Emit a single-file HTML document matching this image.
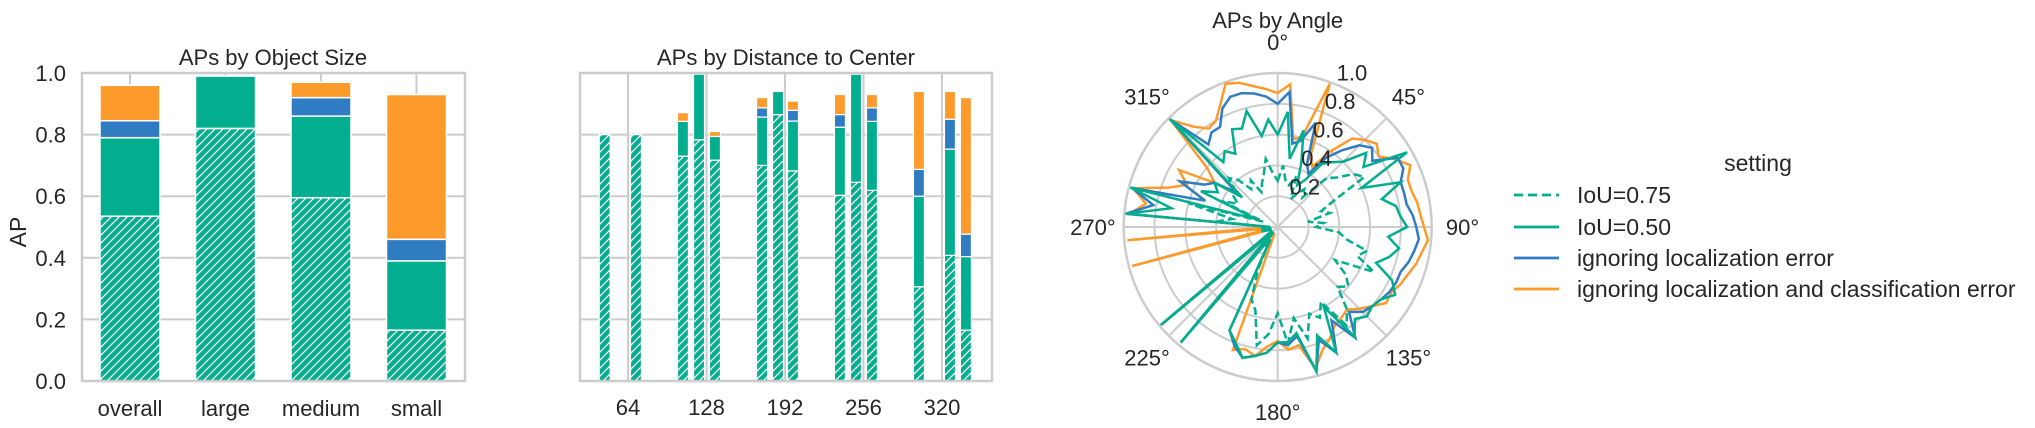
<!DOCTYPE html>
<html><head><meta charset="utf-8">
<style>
html,body{margin:0;padding:0;background:#fff;}
svg{display:block;font-family:"Liberation Sans",Arial,sans-serif;fill:#262626;}
</style></head>
<body>
<svg id="chart" width="2035" height="428" viewBox="0 0 2035 428" xmlns="http://www.w3.org/2000/svg">
<defs>
<pattern id="hatch" patternUnits="userSpaceOnUse" width="8" height="8">
<rect width="8" height="8" fill="#02ae8f"/>
<path d="M-2,10 L10,-2 M-2,2 L2,-2 M6,10 L10,6" stroke="#fff" stroke-width="1.3"/>
</pattern>
</defs>
<g id="left"></g>
<g id="mid"></g>
<g id="polar"></g>
<g id="legend"></g>
</svg>
<script>
// ---- Size chart data ----
const sizeCats = ["overall","large","medium","small"];
const sizeIoU75 = [0.535,0.82,0.595,0.165];
const sizeIoU50 = [0.79,0.99,0.86,0.39];
const sizeLoc = [0.845,0.99,0.92,0.46];
const sizeLocCls = [0.96,0.99,0.97,0.93];
const yTicks = [0.0,0.2,0.4,0.6,0.8,1.0];
// ---- Distance chart data ----
const distPos = [45,70.5,108.8,121.9,134.9,173.3,186.3,198.5,236.8,249.9,262.9,301.2,326.5,339.5];
const distIoU75 = [0.80,0.80,0.73,0.783,0.717,0.70,0.865,0.682,0.603,0.645,0.619,0.306,0.408,0.165];
const distIoU50 = [0.80,0.80,0.843,0.996,0.794,0.857,0.94,0.844,0.824,0.996,0.843,0.60,0.753,0.404];
const distLoc = [0.80,0.80,0.843,0.996,0.794,0.887,0.94,0.879,0.865,0.996,0.887,0.687,0.85,0.477];
const distLocCls = [0.80,0.80,0.871,0.996,0.81,0.92,0.94,0.909,0.93,0.996,0.93,0.94,0.94,0.92];
const distTicks = [64,128,192,256,320];
// ---- Angle chart data (0..355 step 5) ----
const angles = [0,5,10,15,20,25,30,35,40,45,50,55,60,65,70,75,80,85,90,95,100,105,110,115,120,125,130,135,140,145,150,155,160,165,170,175,180,185,190,195,200,205,210,215,220,225,230,235,240,245,250,255,260,265,270,275,280,285,290,295,300,305,310,315,320,325,330,335,340,345,350,355];
const angIoU75 = [0.3,0.4,0.3,0.28,0.35,0.2,0.25,0.3,0.25,0.45,0.5,0.6,0.65,0.4,0.3,0.35,0.2,0.3,0.25,0.4,0.45,0.6,0.55,0.69,0.43,0.54,0.6,0.55,0.7,0.78,0.56,0.65,0.6,0.75,0.6,0.76,0.56,0.7,0.78,0.56,0.5,0.3,0.1,0.15,0.05,0.05,0.3,0.05,0.05,0.05,0.05,0.05,0.05,0.1,0.05,0.4,0.3,0.6,0.1,0.4,0.3,0.35,0.35,0.45,0.4,0.3,0.35,0.25,0.3,0.35,0.45,0.35];
const angIoU50 = [0.6,0.75,0.45,0.65,0.45,0.3,0.35,0.5,0.55,0.6,0.75,0.68,0.97,0.6,0.85,0.7,0.78,0.8,0.84,0.72,0.8,0.75,0.68,0.82,0.88,0.82,0.8,0.82,0.78,0.87,0.6,0.9,0.75,0.97,0.7,0.75,0.75,0.82,0.85,0.88,0.8,0.74,0.1,0.1,0.98,0.05,0.99,0.05,0.05,0.05,0.05,0.1,0.1,0.1,0.05,0.99,0.7,0.99,0.15,0.55,0.45,0.5,0.3,0.99,0.55,0.6,0.55,0.7,0.68,0.78,0.6,0.7];
const angLoc = [0.8,0.88,0.55,0.58,0.72,0.45,0.4,0.55,0.65,0.75,0.8,0.75,0.9,0.9,0.85,0.85,0.85,0.88,0.9,0.92,0.9,0.88,0.85,0.85,0.84,0.82,0.8,0.78,0.72,0.88,0.7,0.9,0.78,0.97,0.72,0.77,0.75,0.82,0.85,0.88,0.82,0.74,0.1,0.1,0.98,0.05,0.99,0.05,0.05,0.05,0.05,0.1,0.1,0.1,0.05,0.99,0.82,0.98,0.5,0.7,0.55,0.5,0.35,0.99,0.7,0.75,0.75,0.85,0.9,0.9,0.88,0.85];
const angLocCls = [0.87,0.93,0.58,0.6,0.99,0.5,0.45,0.6,0.75,0.8,0.84,0.8,0.88,0.95,0.9,0.9,0.92,0.93,0.95,0.98,0.95,0.93,0.9,0.88,0.85,0.86,0.8,0.75,0.7,0.72,0.74,0.8,0.85,0.95,0.78,0.8,0.74,0.78,0.85,0.82,0.85,0.05,0.05,0.05,0.98,0.05,0.95,0.05,0.05,0.05,0.05,0.98,0.05,0.98,0.05,0.97,0.87,0.97,0.75,0.65,0.74,0.5,0.6,0.98,0.85,0.78,0.8,0.88,0.99,0.97,0.93,0.9];
const radialTicks = [0.2,0.4,0.6,0.8,1.0];
const angleTicks = [0,45,90,135,180,225,270,315];

const NS="http://www.w3.org/2000/svg";
const TEAL="#02ae8f", BLUE="#2f7cc3", ORANGE="#fd9a2c", GRID="#cccccc";
function mk(parent,tag,attrs,text){const e=document.createElementNS(NS,tag);for(const k in attrs)e.setAttribute(k,attrs[k]);if(text!==undefined)e.textContent=text;parent.appendChild(e);return e;}

const Y0=381, YH=308;
function ys(v){return Y0-v*YH;}

// ---------- Left chart ----------
(function(){
  const g=document.getElementById('left');
  const L=82,R=465;
  const xc=i=>130+i*95.5;
  yTicks.forEach(t=>{
    if(t>0&&t<1){const l=mk(g,'line',{x1:L,x2:R,y1:ys(t),y2:ys(t),stroke:GRID,'stroke-width':2});
      }
    const tx=mk(g,'text',{x:66,y:ys(t)+8,'text-anchor':'end','font-size':22},t.toFixed(1));
    
  });
  sizeCats.forEach((c,i)=>{
    const l=mk(g,'line',{x1:xc(i),x2:xc(i),y1:73,y2:Y0,stroke:GRID,'stroke-width':2});
    
    const levels=[0,sizeIoU75[i],sizeIoU50[i],sizeLoc[i],sizeLocCls[i]];
    const fills=['url(#hatch)',TEAL,BLUE,ORANGE];
    const names=['iou75','iou50','loc','loccls'];
    for(let k=0;k<4;k++){
      if(levels[k+1]-levels[k]<=0.001)continue;
      const r=mk(g,'rect',{x:xc(i)-30,width:60,y:ys(levels[k+1]),height:ys(levels[k])-ys(levels[k+1]),fill:fills[k],stroke:'#fff','stroke-width':1.5});
      
    }
    const tx=mk(g,'text',{x:xc(i),y:416,'text-anchor':'middle','font-size':22},c);
    
  });
  const f=mk(g,'rect',{x:L,y:73,width:R-L,height:Y0-73,fill:'none',stroke:GRID,'stroke-width':2.5});
  
  const t=mk(g,'text',{x:273,y:65,'text-anchor':'middle','font-size':22},'APs by Object Size');
  
  const yl=mk(g,'text',{x:0,y:0,'text-anchor':'middle','font-size':23,transform:'translate(26,232) rotate(-90)'},'AP');
  
})();

// ---------- Middle chart ----------
(function(){
  const g=document.getElementById('mid');
  const L=580,R=992;
  const xs=d=>549.5+d/64*78.5;
  yTicks.forEach(t=>{ if(t>0&&t<1){const l=mk(g,'line',{x1:L,x2:R,y1:ys(t),y2:ys(t),stroke:GRID,'stroke-width':2});
    }});
  distTicks.forEach(t=>{
    const l=mk(g,'line',{x1:xs(t),x2:xs(t),y1:73,y2:Y0,stroke:GRID,'stroke-width':2});
    
    const tx=mk(g,'text',{x:xs(t),y:415,'text-anchor':'middle','font-size':22},String(t));
    
  });
  distPos.forEach((d,i)=>{
    const levels=[0,distIoU75[i],distIoU50[i],distLoc[i],distLocCls[i]];
    const fills=['url(#hatch)',TEAL,BLUE,ORANGE];
    for(let k=0;k<4;k++){
      if(levels[k+1]-levels[k]<=0.001)continue;
      const r=mk(g,'rect',{x:xs(d)-5.5,width:11,y:ys(levels[k+1]),height:ys(levels[k])-ys(levels[k+1]),fill:fills[k],stroke:'#fff','stroke-width':1.2});
      
    }
  });
  const f=mk(g,'rect',{x:L,y:73,width:R-L,height:Y0-73,fill:'none',stroke:GRID,'stroke-width':2.5});
  
  const t=mk(g,'text',{x:786,y:65,'text-anchor':'middle','font-size':22},'APs by Distance to Center');
  
})();

// ---------- Polar chart ----------
(function(){
  const g=document.getElementById('polar');
  const cx=1277.7, cy=227, RR=154;
  const pt=(a,r)=>{const t=a*Math.PI/180;return [cx+Math.sin(t)*r*RR, cy-Math.cos(t)*r*RR];};
  radialTicks.forEach(r=>{
    const c=mk(g,'circle',{cx:cx,cy:cy,r:r*RR,fill:'none',stroke:GRID,'stroke-width':r===1?2.5:2});
    
  });
  angleTicks.forEach(a=>{
    const p=pt(a,1);
    const l=mk(g,'line',{x1:cx,y1:cy,x2:p[0],y2:p[1],stroke:GRID,'stroke-width':2});
    
    const q=pt(a,1.2);
    const tx=mk(g,'text',{x:q[0],y:q[1]+8,'text-anchor':'middle','font-size':22},a+'°');
    
  });
  const series=[[angLocCls,ORANGE,false,'series-loc-cls'],[angLoc,BLUE,false,'series-loc'],[angIoU50,TEAL,false,'series-iou50'],[angIoU75,TEAL,true,'series-iou75']];
  series.forEach(s=>{
    let d='';
    angles.forEach((a,i)=>{const p=pt(a,s[0][i]);d+=(i?'L':'M')+p[0].toFixed(1)+','+p[1].toFixed(1);});
    d+='Z';
    const attrs={d:d,fill:'none',stroke:s[1],'stroke-width':2.5,'stroke-linejoin':'miter','stroke-miterlimit':4};
    if(s[2])attrs['stroke-dasharray']='8,4';
    const p=mk(g,'path',attrs);
    
  });
  radialTicks.forEach(r=>{
    const p=pt(22.5,r);
    const tx=mk(g,'text',{x:p[0],y:p[1]-4,'text-anchor':'start','font-size':22},r.toFixed(1));
    
  });
  const t=mk(g,'text',{x:cx,y:28,'text-anchor':'middle','font-size':22},'APs by Angle');
  
})();

// ---------- Legend ----------
(function(){
  const g=document.getElementById('legend');
  const t=mk(g,'text',{x:1758,y:171,'text-anchor':'middle','font-size':23},'setting');
  
  const items=[['IoU=0.75',TEAL,true],['IoU=0.50',TEAL,false],['ignoring localization error',BLUE,false],['ignoring localization and classification error',ORANGE,false]];
  const ys2=[195,227,258,289];
  items.forEach((it,i)=>{
    const a={x1:1514,x2:1559,y1:ys2[i],y2:ys2[i],stroke:it[1],'stroke-width':2.8};
    if(it[2])a['stroke-dasharray']='9,5';
    const l=mk(g,'line',a);
    
    const tx=mk(g,'text',{x:1577,y:ys2[i]+8,'font-size':23},it[0]);
    
  });
})();
</script>
</body></html>
